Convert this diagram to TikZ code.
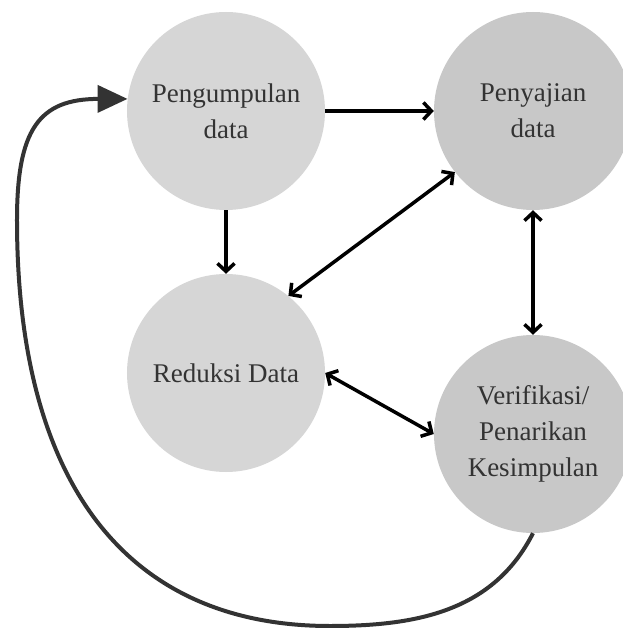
\documentclass[tikz,border=0pt]{standalone}
\usepackage{xcolor}
\usepackage{fontspec}
\setmainfont{Liberation Serif}
\usepackage{tikz}
\usetikzlibrary{arrows,arrows.meta,automata}

\definecolor{lightgrey}{HTML}{D6D6D6}
\definecolor{midgrey}{HTML}{C8C8C8}
\definecolor{textgrey}{HTML}{333333}

\begin{document}
\begin{tikzpicture}[x=1pt,y=1pt,auto,inner sep=0pt,
  every state/.style={draw=none,fill=lightgrey,minimum size=198pt,text=textgrey,align=center,font=\fontsize{27}{36}\selectfont},
  oneway/.style={-{Straight Barb[length=8pt,width=17pt]},line width=3.5pt},
  twoway/.style={{Straight Barb[length=8pt,width=17pt]}-{Straight Barb[length=8pt,width=17pt]},line width=3.5pt},
  loopback/.style={-{Triangle[length=30pt,width=27pt]},line width=4pt,draw=textgrey}]
\useasboundingbox (-226,111) rectangle (396,-517);
\node[state] (P) {Pengumpulan\\data};
\node[state,fill=midgrey,node distance = 307pt] (S) [right of = P] {Penyajian\\data};
\node[state,node distance = 262pt] (R) [below of = P] {Reduksi Data};
\node[state,fill=midgrey,node distance = 323pt] (V) [below of = S] {Verifikasi/\\Penarikan\\Kesimpulan};

\path (P) edge [oneway] (S);
\path (P) edge [oneway] (R);
\path (S.218) edge [twoway] (R.51);
\path (S) edge [twoway] (V);
\path (R.east) edge [twoway] (V.west);

% back to the start
\coordinate (bot) at (104,-515);
\coordinate (lft) at (-209,-109);
\draw[loopback] (V.south) to[out=-117,in=0] (bot) .. controls +(-203,0) and +(0,-264) .. (lft) .. controls +(0,90) and +(-89,0) .. (P.173);

\end{tikzpicture}
\end{document}
